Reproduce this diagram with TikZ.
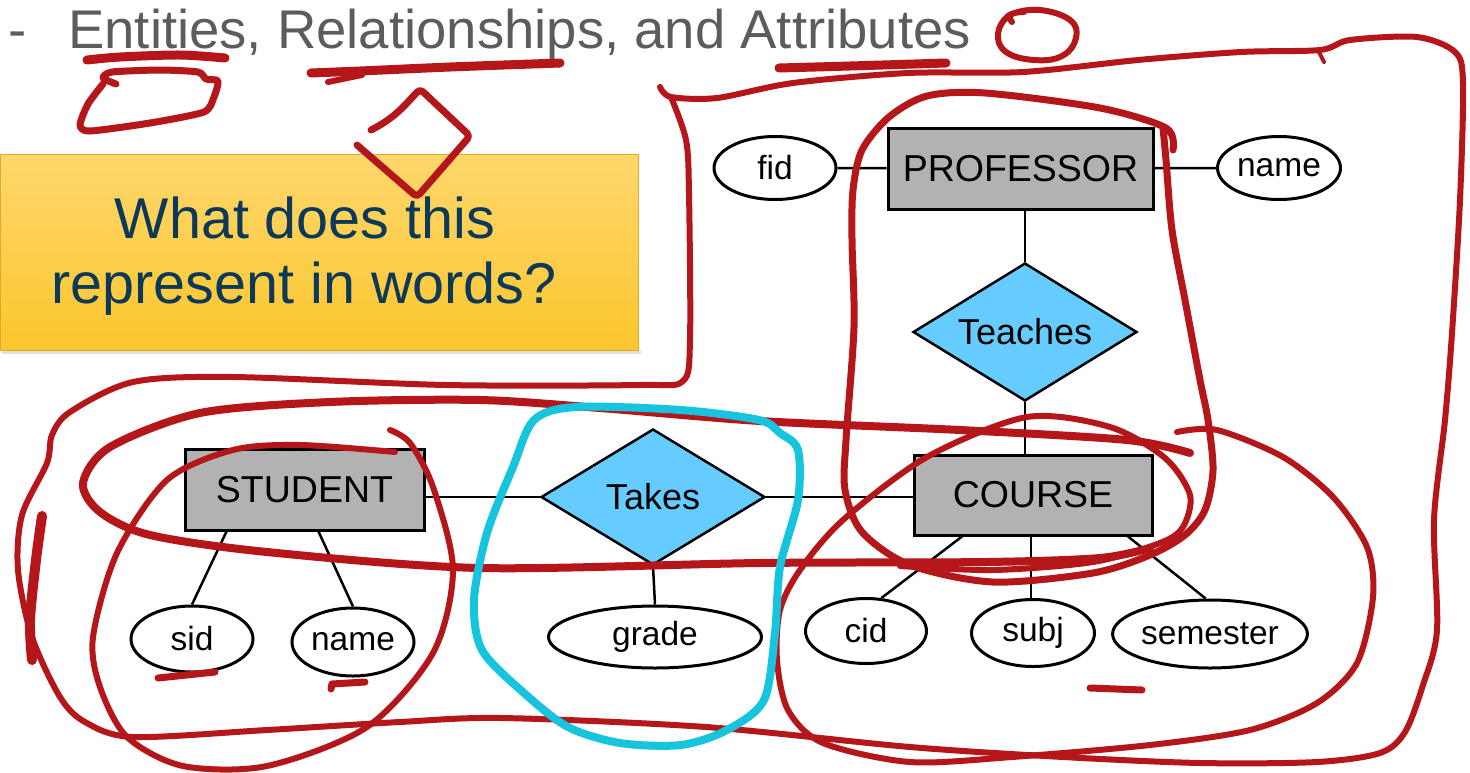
\documentclass[tikz,border=0pt]{standalone}
\usepackage{fontspec}
\setmainfont{Liberation Sans}
\usetikzlibrary{shapes.geometric,calc}
\definecolor{redink}{RGB}{180,22,26}
\definecolor{cyanink}{RGB}{22,196,222}
\definecolor{entgray}{RGB}{178,178,178}
\definecolor{relblue}{RGB}{102,204,255}
\definecolor{titlegray}{RGB}{92,92,92}
\definecolor{navy}{RGB}{12,56,90}
\definecolor{ytop}{RGB}{253,215,108}
\definecolor{ybot}{RGB}{252,198,45}
\definecolor{yedge}{RGB}{222,170,40}

\tikzset{
  entity/.style={rectangle, draw=black, fill=entgray, line width=3pt, inner sep=0pt,
    font=\fontsize{37.5}{40}\selectfont},
  rel/.style={diamond, aspect=1.63, draw=black, fill=relblue, line width=2.5pt, inner sep=0pt,
    font=\fontsize{36}{40}\selectfont},
  attr/.style={ellipse, draw=black, fill=white, line width=3pt, inner sep=0pt,
    font=\fontsize{33.5}{36}\selectfont},
  link/.style={line width=2.5pt},
  ink/.style={draw=redink, line width=6pt, line cap=round, line join=round},
  heavyink/.style={ink, line width=9pt},
  cyanloop/.style={draw=cyanink, line width=8pt, line cap=round, line join=round},
}

\begin{document}
\begin{tikzpicture}[x=1pt,y=-1pt]
\useasboundingbox (0,0) rectangle (1470,772);
\fill[white] (0,0) rectangle (1470,772);

% heading
\node[anchor=base west, text=titlegray, font=\fontsize{54.5}{60}\selectfont, inner sep=0] (dash) at (8,48) {-};
\node[anchor=base west, text=titlegray, font=\fontsize{54.5}{60}\selectfont, inner sep=0] (title) at (68,48)
  {Entities, Relationships, and Attributes};

% question box
\fill[black!12] (2,350) rectangle (641,354);
\shade[top color=ytop, bottom color=ybot] (0,154) rectangle (638,350);
\draw[yedge, line width=1pt] (0,154) rectangle (638,350);
\node[anchor=base, text=navy, font=\fontsize{57.5}{69}\selectfont, inner sep=0] (q1) at (305,238) {What does this};
\node[anchor=base, text=navy, font=\fontsize{57.5}{69}\selectfont, inner sep=0] (q2) at (304,303) {represent in words?};

% ER diagram
\node[entity, minimum width=265pt, minimum height=81pt] (prof) at (1020.5,168.5) {PROFESSOR};
\node[attr, minimum width=122pt, minimum height=63pt] (fid) at (775,168) {fid};
\node[attr, minimum width=123pt, minimum height=63pt] (pname) at (1279,168) {name};
\node[rel, minimum width=224pt, minimum height=138pt] (teaches) at (1025,332) {Teaches};
\node[entity, minimum width=238pt, minimum height=80pt] (course) at (1033,495) {COURSE};
\node[rel, minimum width=224pt, minimum height=136pt] (takes) at (653,497) {Takes};
\node[entity, minimum width=239pt, minimum height=81pt] (stu) at (304.5,489.5) {STUDENT};
\node[attr, minimum width=122pt, minimum height=66pt] (sid) at (192,639) {sid};
\node[attr, minimum width=122pt, minimum height=68pt] (sname) at (353,642) {name};
\node[attr, minimum width=213pt, minimum height=62pt] (grade) at (655,637) {grade};
\node[attr, minimum width=121pt, minimum height=65pt] (cid) at (866,631) {cid};
\node[attr, minimum width=123pt, minimum height=67pt] (subj) at (1033,633) {subj};
\node[attr, minimum width=185pt, minimum height=68pt] (sem) at (1210,634) {semester};

\draw[link] (fid) -- (prof);
\draw[link] (prof) -- (pname);
\draw[link] (teaches.north) -- (teaches.north |- prof.south);
\draw[link] (teaches.south) -- (teaches.south |- course.north);
\draw[link] (takes.west) -- (takes.west -| stu.east);
\draw[link] (takes.east) -- (takes.east -| course.west);
\draw[link] (takes.south) -- (grade.north);
\draw[link] ([xshift=-78pt]stu.south) -- (sid.north);
\draw[link] ([xshift=14pt]stu.south) -- (sname.north);
\draw[link] ([xshift=-71pt]course.south) -- (cid.65);
\draw[link] ([xshift=-2pt]course.south) -- ([xshift=-2pt]subj.north);
\draw[link] ([xshift=95pt]course.south) -- (sem.97);

% ink annotations
\draw[heavyink] plot[smooth] coordinates {(87,60) (120,57) (180,55) (225,58)};
\draw[ink, line width=7pt] plot[smooth, tension=0.4] coordinates {(116,84) (103,78) (112,72) (160,70) (198,72) (206,79) (218,81) (214,97) (204,112) (150,123) (90,131) (80,125) (88,104) (103,84)};
\draw[heavyink] plot[smooth] coordinates {(311,73) (360,71) (450,67) (560,63)};
\draw[ink] (328,82) -- (362,75);
\draw[ink, line width=7pt, rounded corners=4pt] (371,130) .. controls (395,118) and (405,105) .. (420,89) -- (470,136) -- (417,197) -- (357,145);
\draw[heavyink] plot[smooth] coordinates {(779,68) (850,66) (946,63)};
\draw[ink] plot[smooth, tension=0.7] coordinates {(1012,22) (1012,14) (1040,10) (1070,20) (1076,38) (1062,56) (1034,60) (1006,52) (998,34) (1008,16) (1024,12)};

% outline around the whole diagram
\draw[ink] plot[smooth, tension=0.5] coordinates {
  (660,87) (671,97) (717,98) (793,83) (908,73) (1023,72) (1138,60) (1241,52) (1320,50)
  (1350,40) (1417,37) (1455,52) (1463,83) (1460,200) (1452,333) (1445,420) (1434,520)
  (1437,630) (1423,685) (1405,732) (1380,753) (1317,762) (1200,763) (1063,757) (910,747)
  (706,727) (502,718) (400,722) (267,730) (133,737) (85,722) (60,697) (32,637) (18,570)
  (22,515) (47,463) (52,435) (70,412) (133,382) (233,377) (446,385) (640,385) (683,381)
  (690,340) (689,193) (686,140) (671,97)};
\draw[ink, line width=4pt] (1318,50) -- (1324,62);
\draw[ink, line width=10pt] plot[smooth] coordinates {(42,516) (36,560) (30,620) (32,660)};

% loop around professor, teaches and course
\draw[ink, line width=7pt] plot[smooth, tension=0.5] coordinates {
  (1173,150) (1166,128) (1100,108) (985,93) (927,96) (889,117) (862,150) (853,190)
  (852,240) (854,327) (846,440) (845,490) (862,532) (910,565) (993,582) (1093,573)
  (1150,555) (1185,535) (1205,510) (1213,470) (1208,420) (1200,380) (1185,300)
  (1172,230) (1166,160) (1163,128)};

% long loop across student, takes and course
\draw[ink, line width=8pt] plot[smooth, tension=0.5] coordinates {
  (1190,453) (1127,440) (960,430) (760,421) (600,408) (480,400) (330,402) (200,413)
  (110,447) (83,483) (100,512) (150,535) (267,552) (480,568) (760,563) (986,562)
  (1100,558) (1150,548)};

% loop around student and its attributes
\draw[ink] plot[smooth, tension=0.5] coordinates {
  (395,452) (300,445) (233,450) (167,480) (117,553) (93,637) (100,687) (127,737)
  (183,766) (267,766) (367,727) (433,653) (453,570) (433,487) (410,443) (390,430)};

% loop around course and its attributes
\draw[ink] plot[smooth, tension=0.5] coordinates {
  (1177,432) (1217,430) (1283,457) (1333,497) (1367,547) (1373,597) (1357,663)
  (1317,703) (1250,730) (1150,745) (1012,757) (910,762) (823,743) (788,710) (777,660)
  (780,610) (800,570) (843,520) (927,457) (1027,417) (1110,427) (1165,458) (1190,495)
  (1183,527) (1160,543) (1093,562) (993,570) (900,566)};

% key underlines
\draw[ink, line width=7pt] (158,678) -- (215,672);
\draw[ink, line width=7pt] (331,689) -- (332,684) -- (365,682);
\draw[ink, line width=7pt] (1090,688) -- (1142,690);

% loop around takes and grade
\draw[cyanloop] plot[smooth cycle, tension=0.5] coordinates {
  (780,433) (759,420) (681,410) (576,407) (534,420) (513,467) (487,533) (474,600)
  (482,650) (524,693) (568,727) (620,743) (681,745) (727,730) (764,700) (775,633)
  (780,567) (798,500) (798,450)};
\end{tikzpicture}
\end{document}
